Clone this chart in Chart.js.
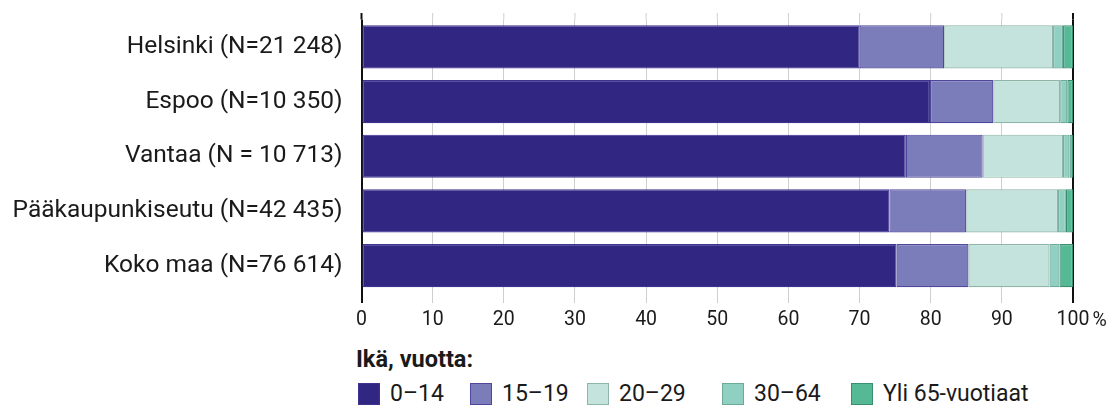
<!DOCTYPE html>
<html lang="fi">
<head>
<meta charset="utf-8">
<script src="https://cdn.jsdelivr.net/npm/chart.js@4"></script>
<style>
  html, body { margin: 0; padding: 0; background: #fff; }
  body { width: 1119px; height: 407px; position: relative; overflow: hidden; font-family: Roboto, "Liberation Sans", sans-serif; color: #1a1a1a; }
  #wrap { position: absolute; left: 0; top: 0; width: 1119px; height: 333px; }
  #legend { position: absolute; left: 356px; top: 346px; width: 760px; height: 61px; }
  #legend .title { font-weight: bold; font-size: 23.5px; line-height: 26px; }
  #legend .item { position: absolute; top: 37px; display: flex; align-items: center; font-size: 23px; line-height: 22px; white-space: nowrap; }
  #legend .box { width: 22px; height: 22px; margin-right: 10px; box-sizing: border-box; border: 1.5px solid; }
</style>
</head>
<body>
<div id="wrap"><canvas id="ageChart"></canvas></div>
<div id="legend"></div>
<script>
document.addEventListener('DOMContentLoaded', function () {

    const cities = ['Helsinki (N=21 248)', 'Espoo (N=10 350)', 'Vantaa (N = 10 713)', 'Pääkaupunkiseutu (N=42 435)', 'Koko maa (N=76 614)']
    const ageGroups = ['0–14', '15–19', '20–29', '30–64', 'Yli 65-vuotiaat']

    // shares in percent, one array per age group
    const age0to14 = [70.0, 79.9, 76.5, 74.2, 75.2]
    const age15to19 = [11.9, 8.9, 10.8, 10.8, 10.1]
    const age20to29 = [15.3, 9.4, 11.3, 12.9, 11.4]
    const age30to64 = [1.4, 1.0, 0.9, 1.1, 1.4]
    const age65plus = [1.4, 0.8, 0.5, 1.0, 1.9]

    const fills = ['#312783', '#7a7dba', '#c5e3dd', '#8fd0c2', '#56b996']
    const borders = ['#3d3391', '#4f479c', '#8db5a8', '#6ea899', '#3a8e6f']

    // left offsets of the legend entries inside the legend box
    const legendSlots = [2, 114, 231, 366, 495]

    const series = [age0to14, age15to19, age20to29, age30to64, age65plus]

    const font = 'Roboto, "Liberation Sans", sans-serif'

    // grid overhang above the plot and the % sign after 100
    const axisExtras = {
        id: 'axisExtras',
        afterDraw(chart) {
            const ctx = chart.ctx
            const x = chart.scales.x
            const top = chart.chartArea.top
            ctx.save()
            x.ticks.forEach(t => {
                const px = x.getPixelForValue(t.value)
                const edge = t.value === 0 || t.value === 100
                ctx.strokeStyle = edge ? '#111' : '#cfcfcf'
                ctx.lineWidth = edge ? 2 : 1
                ctx.beginPath()
                ctx.moveTo(px, top - 6.5)
                ctx.lineTo(px, top)
                ctx.stroke()
            })
            ctx.font = '19.5px ' + font
            ctx.fillStyle = '#1a1a1a'
            ctx.textBaseline = 'middle'
            const w = ctx.measureText('100').width
            ctx.fillText('%', x.getPixelForValue(100) + w / 2 + 3, 321)
            ctx.restore()
        }
    }

    const ctx = document.getElementById('ageChart').getContext('2d')
    const ageChart = new Chart(ctx, {
        type: 'bar',
        data: {
            labels: cities,
            datasets: series.map((values, i) => ({
                label: ageGroups[i],
                data: values,
                backgroundColor: fills[i],
                borderColor: borders[i],
                borderWidth: 1.2,
                borderSkipped: false,
                barPercentage: 0.79,
                categoryPercentage: 1
            }))
        },
        options: {
            indexAxis: 'y',
            responsive: true,
            maintainAspectRatio: false,
            animation: false,
            layout: { padding: { top: 19.5, right: 46, bottom: 0, left: 0 } },
            plugins: {
                legend: { display: false },
                tooltip: { enabled: false }
            },
            scales: {
                x: {
                    stacked: true,
                    min: 0,
                    max: 100,
                    ticks: {
                        stepSize: 10,
                        padding: 5,
                        color: '#1a1a1a',
                        font: { size: 19.5, family: font }
                    },
                    grid: {
                        tickLength: 10,
                        color: c => (c.tick && (c.tick.value === 0 || c.tick.value === 100)) ? '#111' : '#cfcfcf',
                        lineWidth: c => (c.tick && (c.tick.value === 0 || c.tick.value === 100)) ? 2 : 1
                    },
                    border: { display: false },
                    afterFit: s => { s.height = 40; s.paddingLeft = 0; s.paddingRight = 0 }
                },
                y: {
                    stacked: true,
                    ticks: {
                        padding: 19,
                        color: '#1a1a1a',
                        font: { size: 24.5, family: font }
                    },
                    grid: { display: false, drawTicks: false },
                    border: { display: false },
                    afterFit: s => { s.width = 361.5; s.paddingTop = 0; s.paddingBottom = 0 }
                }
            }
        },
        plugins: [axisExtras]
    })

    // legend below the chart
    const legend = document.getElementById('legend')
    let html = '<div class="title">Ikä, vuotta:</div>'
    ageGroups.forEach((g, i) => {
        html += '<div class="item" style="left:' + legendSlots[i] + 'px"><span class="box" style="background:' + fills[i] + ';border-color:' + borders[i] + '"></span>' + g + '</div>'
    })
    legend.innerHTML = html
})
</script>
</body>
</html>
